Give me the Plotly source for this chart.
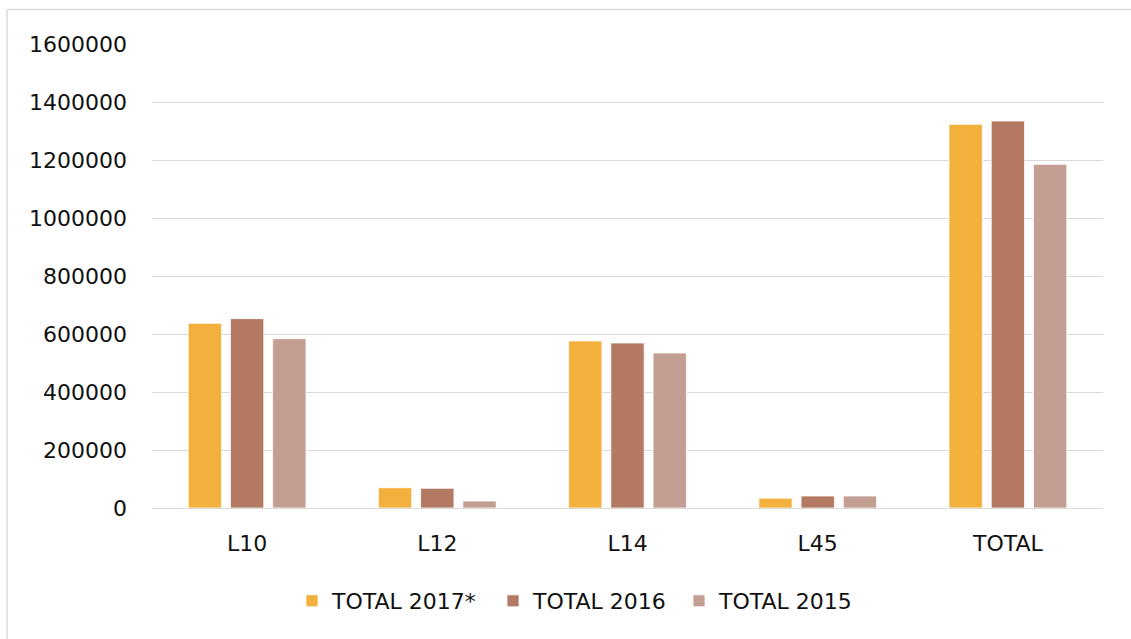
import plotly.graph_objects as go

categories = ["L10", "L12", "L14", "L45", "TOTAL"]
total_2017 = [637000, 70000, 576000, 34000, 1323000]
total_2016 = [653000, 68000, 569000, 41500, 1334500]
total_2015 = [584000, 24000, 534500, 41500, 1185000]

series = [
    ("TOTAL 2017*", total_2017, "#F4B03C", "legend", 292),
    ("TOTAL 2016", total_2016, "#B37962", "legend2", 493),
    ("TOTAL 2015", total_2015, "#C39E92", "legend3", 679),
]

W, H = 1131, 639
ML, MR, MT, MB = 152, 28, 44, 131
pw = W - ML - MR
ph = H - MT - MB

def px_x(x):
    return (x - ML) / pw

def px_y(y):
    return (H - MB - y) / ph

font_family = "DejaVu Sans"
FS = 22

fig = go.Figure()
legends = {}
for name, vals, col, leg, lx in series:
    fig.add_trace(go.Bar(
        x=categories, y=vals, name=name, legend=leg, showlegend=True,
        marker=dict(color=col, line=dict(color="rgba(255,255,255,0.8)", width=1)),
    ))
    legends[leg] = dict(orientation="h", x=px_x(lx), xanchor="left",
                        y=px_y(601), yanchor="middle", font=dict(size=FS),
                        itemwidth=30, bgcolor="rgba(0,0,0,0)", visible=True)

fig.update_layout(
    width=W, height=H,
    showlegend=True,
    margin=dict(l=ML, r=MR, t=MT, b=MB, pad=0),
    paper_bgcolor="white", plot_bgcolor="white",
    barmode="group", bargap=0.334, bargroupgap=0.21,
    font=dict(family=font_family, size=FS, color="#111111"),
    xaxis=dict(showgrid=False, showline=False, ticks="", tickfont=dict(size=FS),
               ticklabelstandoff=20),
    yaxis=dict(range=[0, 1600000], dtick=200000, tickformat="d",
               showgrid=True, gridcolor="#d9d9d9", gridwidth=1.3,
               zeroline=True, zerolinecolor="#d9d9d9", zerolinewidth=1.3,
               showline=False, ticks="", ticklabelstandoff=24, tickfont=dict(size=FS)),
    shapes=[
        dict(type="line", xref="paper", yref="paper",
             x0=px_x(7), x1=px_x(1140), y0=px_y(9.5), y1=px_y(9.5),
             line=dict(color="#d9d9d9", width=1.5)),
        dict(type="line", xref="paper", yref="paper",
             x0=px_x(7), x1=px_x(7), y0=px_y(9.5), y1=px_y(650),
             line=dict(color="#d9d9d9", width=1.5)),
    ],
    **legends,
)

fig.write_html("out.html", config={"displayModeBar": False},
               post_script="document.body.style.margin='0';document.body.style.overflow='hidden';")
